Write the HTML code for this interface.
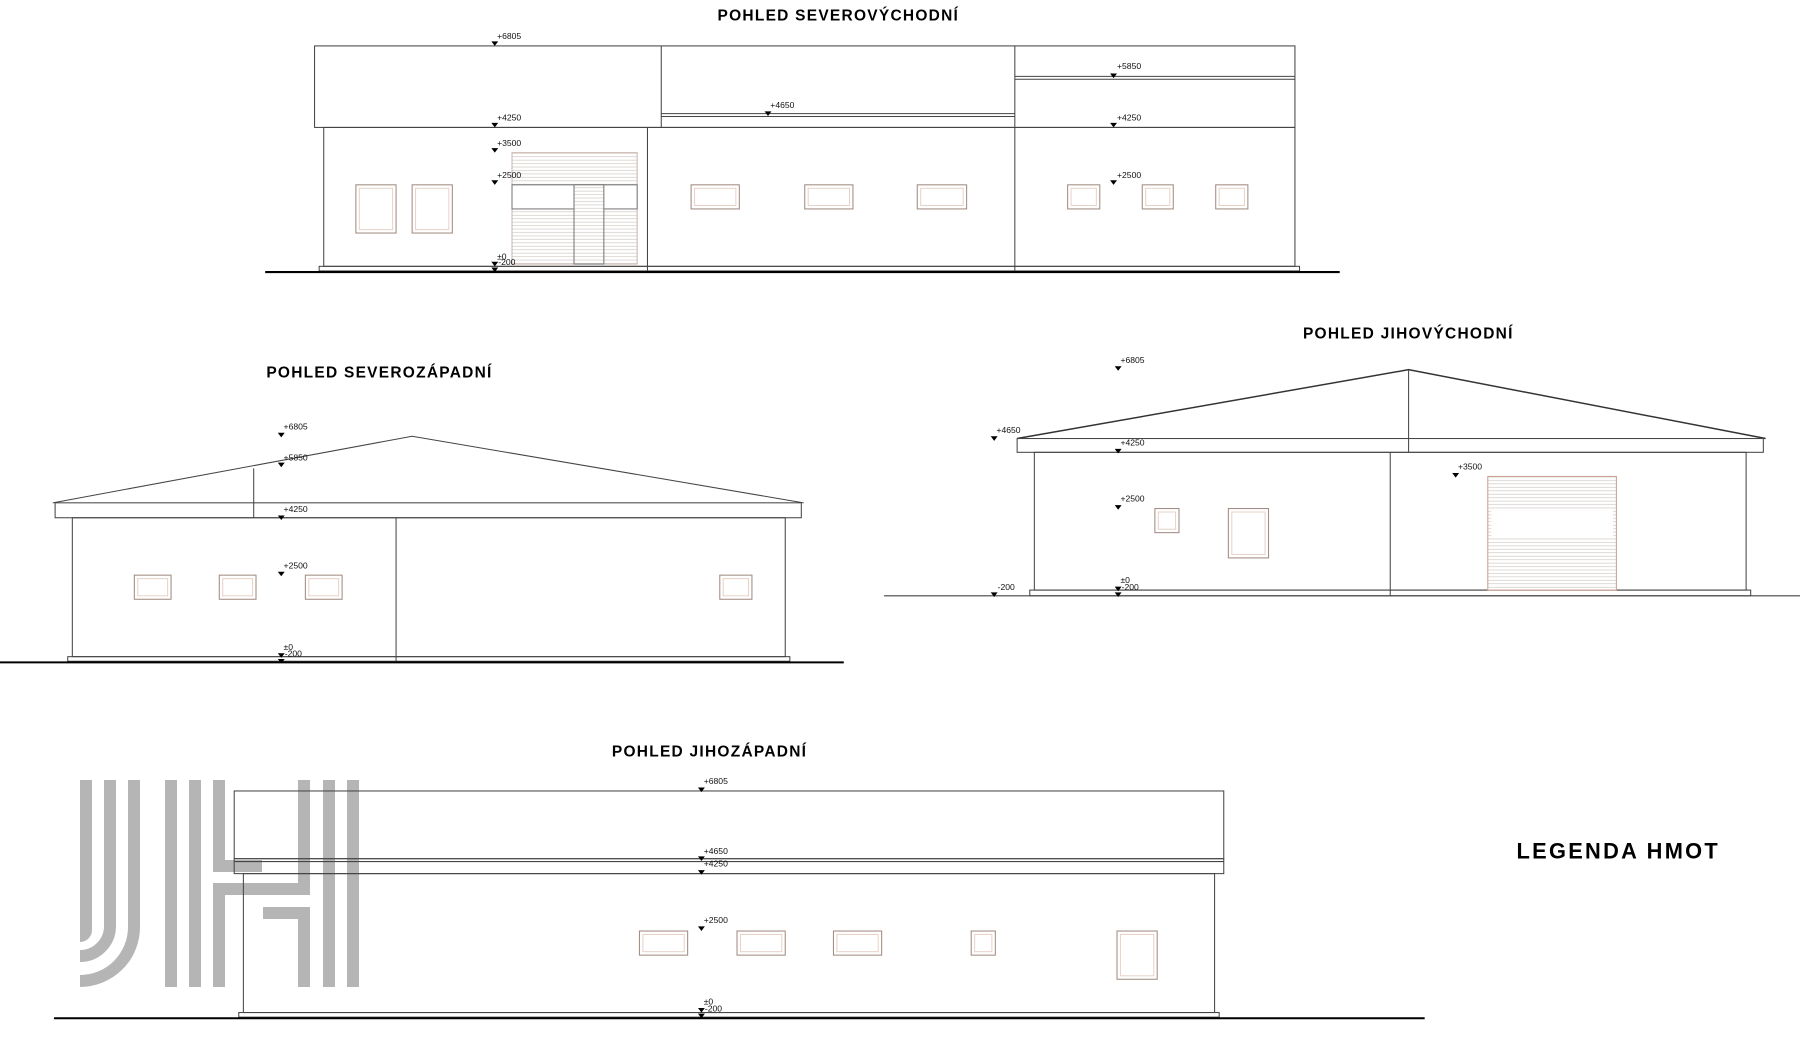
<!DOCTYPE html>
<html><head><meta charset="utf-8"><style>
html,body{margin:0;padding:0;background:#fff;}
svg{display:block;}
text{font-family:"Liberation Sans",sans-serif;}
.t{font-size:13.5px;font-weight:bold;fill:#000;letter-spacing:1.1px;}
.m{font-size:7.5px;fill:#111;}
</style></head><body>
<svg width="1800" height="1064" viewBox="0 0 1800 1064" xmlns="http://www.w3.org/2000/svg">
<defs>
<symbol id="tri" overflow="visible"><path d="M-3,-4 L3,-4 L0,0 Z" fill="#000"/></symbol>
<pattern id="hatch" width="4" height="3" patternUnits="userSpaceOnUse"><rect width="4" height="3" fill="#fff"/><line x1="0" y1="1.5" x2="4" y2="1.5" stroke="#cfc8c4" stroke-width="0.6"/></pattern>
</defs>
<g fill="none" stroke="#b5b5b5" stroke-width="12">
<path d="M86,780 V930 A6,6 0 0 1 80,936"/>
<path d="M110,780 V926 A30,30 0 0 1 80,956"/>
<path d="M134,780 V927 A54,54 0 0 1 80,981"/>
<line x1="171" y1="780" x2="171" y2="987"/>
<line x1="195" y1="780" x2="195" y2="987"/>
<line x1="219" y1="780" x2="219" y2="866"/>
<line x1="219" y1="889" x2="219" y2="987"/>
<line x1="213" y1="866" x2="262" y2="866"/>
<line x1="213" y1="889" x2="304" y2="889"/>
<line x1="304" y1="780" x2="304" y2="895"/>
<line x1="263" y1="913" x2="304" y2="913"/>
<line x1="304" y1="907" x2="304" y2="987"/>
<line x1="329" y1="780" x2="329" y2="987"/>
<line x1="353" y1="780" x2="353" y2="987"/>
</g>
<g transform="scale(1.148)" fill="none" stroke="#444" stroke-width="0.9">
<text class="t" x="625" y="18" stroke="none">POHLED SEVEROVÝCHODNÍ</text>
<rect x="274" y="40" width="854" height="71"/>
<line x1="576" y1="40" x2="576" y2="111"/>
<line x1="884" y1="40" x2="884" y2="111"/>
<line x1="576" y1="99" x2="884" y2="99"/><line x1="576" y1="101.5" x2="884" y2="101.5"/>
<line x1="884" y1="66.5" x2="1128" y2="66.5"/><line x1="884" y1="69" x2="1128" y2="69"/>
<rect x="282" y="111" width="846" height="121"/>
<line x1="564" y1="111" x2="564" y2="236"/>
<line x1="884" y1="111" x2="884" y2="236"/>
<rect x="278" y="232" width="854" height="4"/>
<line x1="231" y1="237" x2="1167" y2="237" stroke="#000" stroke-width="1.8"/>
<g stroke="#a08a80"><rect x="310" y="161" width="35" height="42"/><rect x="313" y="164" width="29" height="36" stroke="#e8d2c8"/>
<rect x="359" y="161" width="35" height="42"/><rect x="362" y="164" width="29" height="36" stroke="#e8d2c8"/></g>
<rect x="446" y="133" width="109" height="97" fill="url(#hatch)" stroke="#c9b6ad"/>
<rect x="446" y="161" width="109" height="21" fill="#fff" stroke="#777"/>
<rect x="500" y="161" width="26" height="69" fill="url(#hatch)" stroke="#777"/>
<g stroke="#a08a80">
<rect x="602" y="161" width="42" height="21"/><rect x="605" y="164" width="36" height="15" stroke="#e8d2c8"/>
<rect x="701" y="161" width="42" height="21"/><rect x="704" y="164" width="36" height="15" stroke="#e8d2c8"/>
<rect x="799" y="161" width="43" height="21"/><rect x="802" y="164" width="37" height="15" stroke="#e8d2c8"/>
<rect x="930" y="161" width="28" height="21"/><rect x="933" y="164" width="22" height="15" stroke="#e8d2c8"/>
<rect x="995" y="161" width="27" height="21"/><rect x="998" y="164" width="21" height="15" stroke="#e8d2c8"/>
<rect x="1059" y="161" width="28" height="21"/><rect x="1062" y="164" width="22" height="15" stroke="#e8d2c8"/>
</g>
<g stroke="none">
<use href="#tri" x="431" y="40"/><text class="m" x="433" y="34">+6805</text>
<use href="#tri" x="431" y="111"/><text class="m" x="433" y="105">+4250</text>
<use href="#tri" x="431" y="133"/><text class="m" x="433" y="127">+3500</text>
<use href="#tri" x="431" y="161"/><text class="m" x="433" y="155">+2500</text>
<use href="#tri" x="431" y="232"/><text class="m" x="433" y="226">±0</text>
<use href="#tri" x="431" y="237"/><text class="m" x="434" y="231">-200</text>
<use href="#tri" x="669" y="101"/><text class="m" x="671" y="94">+4650</text>
<use href="#tri" x="970" y="68"/><text class="m" x="973" y="60">+5850</text>
<use href="#tri" x="970" y="111"/><text class="m" x="973" y="105">+4250</text>
<use href="#tri" x="970" y="161"/><text class="m" x="973" y="155">+2500</text>
</g>
<text class="t" x="232" y="329" stroke="none">POHLED SEVEROZÁPADNÍ</text>
<polyline points="46,438 359,380 700,438"/>
<rect x="48" y="438" width="650" height="13"/>
<line x1="221" y1="408" x2="221" y2="451"/>
<rect x="63" y="451" width="621" height="121"/>
<line x1="345" y1="451" x2="345" y2="576"/>
<rect x="59" y="572" width="629" height="4"/>
<line x1="0" y1="577" x2="735" y2="577" stroke="#000" stroke-width="1.8"/>
<g stroke="#a08a80">
<rect x="117" y="501" width="32" height="21"/><rect x="120" y="504" width="26" height="15" stroke="#e8d2c8"/>
<rect x="191" y="501" width="32" height="21"/><rect x="194" y="504" width="26" height="15" stroke="#e8d2c8"/>
<rect x="266" y="501" width="32" height="21"/><rect x="269" y="504" width="26" height="15" stroke="#e8d2c8"/>
<rect x="627" y="501" width="28" height="21"/><rect x="630" y="504" width="22" height="15" stroke="#e8d2c8"/>
</g>
<g stroke="none">
<use href="#tri" x="245" y="381"/><text class="m" x="247" y="374">+6805</text>
<use href="#tri" x="245" y="407"/><text class="m" x="247" y="401">+5850</text>
<use href="#tri" x="245" y="453"/><text class="m" x="247" y="446">+4250</text>
<use href="#tri" x="245" y="502"/><text class="m" x="247" y="495">+2500</text>
<use href="#tri" x="245" y="573"/><text class="m" x="247" y="566">±0</text>
<use href="#tri" x="245" y="578"/><text class="m" x="248" y="572">-200</text>
</g>
<text class="t" x="1135" y="295" stroke="none">POHLED JIHOVÝCHODNÍ</text>
<polyline points="886,382 1227,322 1538,382" stroke="#333" stroke-width="1.3"/>
<rect x="886" y="382" width="650" height="12"/>
<line x1="1227" y1="322" x2="1227" y2="394"/>
<rect x="901" y="394" width="620" height="120"/>
<line x1="1211" y1="394" x2="1211" y2="519"/>
<rect x="897" y="514" width="628" height="5"/>
<line x1="770" y1="519" x2="1568" y2="519"/>
<g stroke="#a08a80">
<rect x="1006" y="443" width="21" height="21"/><rect x="1009" y="446" width="15" height="15" stroke="#e8d2c8"/>
<rect x="1070" y="443" width="35" height="43"/><rect x="1073" y="446" width="29" height="37" stroke="#e8d2c8"/>
</g>
<rect x="1296" y="415" width="112" height="99" fill="url(#hatch)" stroke="#c9a090"/>
<rect x="1299" y="445" width="106" height="23" fill="#fff" stroke="none"/>
<g stroke="none">
<use href="#tri" x="974" y="323"/><text class="m" x="976" y="316">+6805</text>
<use href="#tri" x="974" y="395"/><text class="m" x="976" y="388">+4250</text>
<use href="#tri" x="974" y="444"/><text class="m" x="976" y="437">+2500</text>
<use href="#tri" x="974" y="515"/><text class="m" x="976" y="508">±0</text>
<use href="#tri" x="974" y="520"/><text class="m" x="977" y="514">-200</text>
<use href="#tri" x="866" y="384"/><text class="m" x="868" y="377">+4650</text>
<use href="#tri" x="866" y="520"/><text class="m" x="869" y="514">-200</text>
<use href="#tri" x="1268" y="416"/><text class="m" x="1270" y="409">+3500</text>
</g>
<text class="t" x="533" y="659" stroke="none">POHLED JIHOZÁPADNÍ</text>
<rect x="204" y="689" width="862" height="59"/>
<line x1="204" y1="750.5" x2="1066" y2="750.5"/>
<rect x="204" y="748" width="862" height="13"/>
<rect x="212" y="761" width="846" height="121"/>
<rect x="208" y="882" width="854" height="4"/>
<line x1="47" y1="887" x2="1241" y2="887" stroke="#000" stroke-width="1.8"/>
<g stroke="#a08a80">
<rect x="557" y="811" width="42" height="21"/><rect x="560" y="814" width="36" height="15" stroke="#e8d2c8"/>
<rect x="642" y="811" width="42" height="21"/><rect x="645" y="814" width="36" height="15" stroke="#e8d2c8"/>
<rect x="726" y="811" width="42" height="21"/><rect x="729" y="814" width="36" height="15" stroke="#e8d2c8"/>
<rect x="846" y="811" width="21" height="21"/><rect x="849" y="814" width="15" height="15" stroke="#e8d2c8"/>
<rect x="973" y="811" width="35" height="42"/><rect x="976" y="814" width="29" height="36" stroke="#e8d2c8"/>
</g>
<g stroke="none">
<use href="#tri" x="611" y="690"/><text class="m" x="613" y="683">+6805</text>
<use href="#tri" x="611" y="750"/><text class="m" x="613" y="744">+4650</text>
<use href="#tri" x="611" y="762"/><text class="m" x="613" y="755">+4250</text>
<use href="#tri" x="611" y="811"/><text class="m" x="613" y="804">+2500</text>
<use href="#tri" x="611" y="882"/><text class="m" x="613" y="875">±0</text>
<use href="#tri" x="611" y="887"/><text class="m" x="614" y="881">-200</text>
</g>
<text x="1321" y="748" stroke="none" style="font-size:19px;font-weight:bold;fill:#000;letter-spacing:2px">LEGENDA HMOT</text>
</g>
</svg>
</body></html>
